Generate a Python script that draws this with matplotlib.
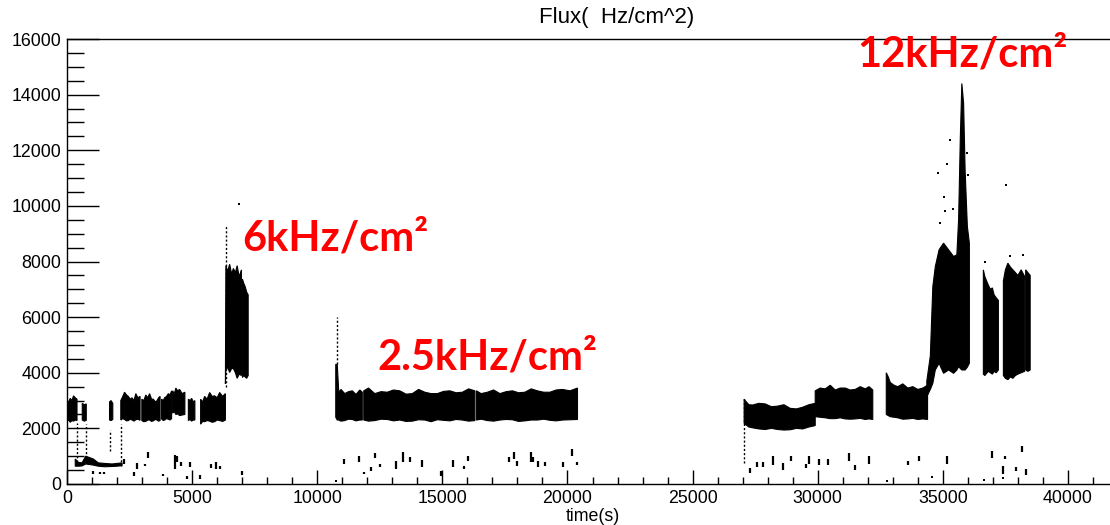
import matplotlib
matplotlib.use("Agg")
import matplotlib.pyplot as plt
from matplotlib.ticker import MultipleLocator

# ---- dense run periods: time (s), upper and lower envelope of the flux (Hz/cm^2)
run01_t = [0, 70, 130, 200, 260, 330, 400]
run01_hi = [3000, 2950, 3080, 3000, 3170, 3100, 3050]
run01_lo = [2250, 2300, 2220, 2280, 2260, 2300, 2280]

run02_t = [610, 690, 770]
run02_hi = [2900, 2850, 2880]
run02_lo = [2300, 2260, 2290]

run03_t = [1700, 1760, 1830]
run03_hi = [2950, 3000, 2900]
run03_lo = [2300, 2280, 2320]

run04_t = [2150, 2230, 2300, 2380, 2450, 2530, 2600, 2680, 2750, 2830, 2920]
run04_hi = [3000, 3150, 3300, 3200, 3150, 3050, 3100, 3000, 3250, 3100, 3150]
run04_lo = [2300, 2350, 2320, 2270, 2280, 2330, 2300, 2260, 2310, 2330, 2290]

run05_t = [2990, 3070, 3150, 3230, 3300, 3380, 3450, 3530, 3600, 3660, 3720]
run05_hi = [3050, 3000, 3200, 3100, 3250, 3050, 3050, 2950, 3000, 3100, 3150]
run05_lo = [2280, 2240, 2250, 2300, 2300, 2250, 2270, 2320, 2300, 2260, 2280]

run06_t = [3780, 3850, 3900, 3980, 4050, 4120, 4180]
run06_hi = [3050, 3000, 3100, 3150, 3250, 3200, 3350]
run06_lo = [2340, 2280, 2300, 2350, 2330, 2300, 2350]

run07_t = [4220, 4290, 4350, 4420, 4500, 4600, 4710]
run07_hi = [3350, 3250, 3450, 3350, 3400, 3250, 3300]
run07_lo = [2550, 2600, 2500, 2520, 2460, 2480, 2500]

run08_t = [4850, 4920, 4980, 5050, 5110]
run08_hi = [3050, 3000, 3080, 2950, 3000]
run08_lo = [2280, 2320, 2260, 2300, 2300]

run09_t = [5340, 5420, 5500, 5600, 5700, 5800, 5900, 6000, 6100, 6220, 6330]
run09_hi = [3050, 2950, 3150, 3050, 3290, 3150, 3170, 3100, 3290, 3150, 3250]
run09_lo = [2150, 2250, 2240, 2280, 2260, 2220, 2240, 2300, 2280, 2250, 2300]

run10_t = [6330, 6350, 6420, 6500, 6580, 6650, 6730, 6800, 6880, 6970]
run10_hi = [3600, 7850, 7650, 7900, 7550, 7750, 7600, 7850, 7450, 7700]
run10_lo = [3600, 4100, 4200, 4010, 4150, 4150, 4000, 3800, 3950, 3900]

run11_t = [7010, 7070, 7120, 7180, 7240]
run11_hi = [7370, 7200, 7100, 6900, 6800]
run11_lo = [3830, 3900, 3850, 3800, 3900]

run12_t = [10740, 10800, 10860, 10950, 11100, 11250, 11400, 11550, 11700, 11800]
run12_hi = [4300, 4300, 3300, 3400, 3250, 3320, 3350, 3220, 3380, 3300]
run12_lo = [2400, 2300, 2300, 2260, 2280, 2330, 2320, 2270, 2300, 2300]

run13_t = [11860, 12050, 12300, 12550, 12800, 13050, 13300, 13550, 13800, 14050,
           14300, 14550, 14800, 15050, 15300, 15550, 15800, 16050, 16300]
run13_hi = [3350, 3450, 3250, 3320, 3300, 3380, 3350, 3230, 3250, 3400,
            3300, 3250, 3250, 3330, 3350, 3280, 3300, 3420, 3350]
run13_lo = [2300, 2260, 2280, 2330, 2320, 2270, 2300, 2250, 2260, 2310,
            2300, 2240, 2310, 2290, 2270, 2320, 2300, 2260, 2280]

run14_t = [16360, 16550, 16800, 17050, 17300, 17550, 17800, 18050, 18300, 18550,
           18800, 19050, 19300, 19550, 19800, 20100, 20400]
run14_hi = [3350, 3250, 3300, 3380, 3250, 3320, 3350, 3280, 3300, 3420,
            3350, 3300, 3300, 3380, 3400, 3350, 3450]
run14_lo = [2300, 2330, 2280, 2260, 2300, 2320, 2310, 2250, 2270, 2300,
            2300, 2330, 2290, 2270, 2300, 2310, 2320]

run15_t = [27060, 27100, 27250, 27400, 27650, 27900, 28150, 28400, 28650, 28900,
           29150, 29400, 29650, 29900]
run15_hi = [3050, 3000, 2850, 2840, 2900, 2880, 2780, 2800, 2850, 2720,
            2700, 2760, 2850, 2900]
run15_lo = [2180, 2150, 2050, 2020, 1980, 1960, 2000, 1960, 1940, 1950,
            2000, 1980, 2050, 2100]

run16_t = [29900, 30100, 30300, 30500, 30700, 30900, 31100, 31300, 31500, 31700,
           31900, 32050, 32200]
run16_hi = [3350, 3450, 3420, 3550, 3380, 3450, 3450, 3380, 3400, 3500,
            3420, 3500, 3380]
run16_lo = [2420, 2400, 2380, 2350, 2350, 2380, 2340, 2330, 2340, 2360,
            2320, 2340, 2320]

run17_t = [32740, 32820, 32900, 33050, 33200, 33400, 33600, 33800, 34000, 34200, 34390]
run17_hi = [4000, 3850, 3650, 3550, 3500, 3600, 3450, 3500, 3400, 3450, 3550]
run17_lo = [2500, 2460, 2420, 2400, 2380, 2330, 2340, 2360, 2320, 2340, 2320]

run18_t = [34360, 34500, 34600, 34700, 34850, 35030, 35230, 35430, 35560, 35630,
           35700, 35760, 35830, 35890, 35980, 36060]
run18_hi = [3700, 4600, 7100, 7820, 8420, 8660, 8420, 8180, 8240, 9500,
            12490, 14400, 13690, 11290, 9260, 8660]
run18_lo = [3140, 3400, 3620, 4100, 4340, 3980, 4100, 3980, 4100, 4220,
            4150, 4100, 4100, 4100, 4200, 4340]

run19_t = [36620, 36680, 36750, 36820, 36900, 36980, 37050, 37130, 37220]
run19_hi = [7700, 7450, 7300, 7150, 7000, 7050, 6800, 6700, 6600]
run19_lo = [3950, 3900, 3980, 4050, 4000, 3950, 4050, 4000, 4100]

run20_t = [37420, 37500, 37600, 37700, 37800, 37900, 38000, 38130, 38270]
run20_hi = [7300, 7700, 7940, 7800, 7700, 7600, 7500, 7700, 7460]
run20_lo = [3900, 3800, 3750, 3850, 3800, 3900, 3950, 4000, 4050]

run21_t = [38310, 38400, 38490]
run21_hi = [7700, 7600, 7500]
run21_lo = [4100, 4050, 4100]

# low-rate period at the start of the run
low_t = [330, 450, 600, 750, 900, 1050, 1250, 1500, 1800, 2000, 2200]
low_hi = [900, 780, 760, 1000, 950, 900, 760, 740, 720, 740, 760]
low_lo = [640, 640, 650, 720, 700, 680, 640, 620, 630, 640, 660]

# isolated short readings: time, lower flux, upper flux
spot_t = [1040, 1330, 1490, 2280, 2660, 2790, 3120, 3250, 3820, 4300, 4410, 4540,
          4810, 4910, 5310, 5740, 5940, 6110, 7010,
          11050, 11680, 11850, 12150, 12310, 12510, 13150, 13420, 13710, 14170,
          14930, 15440, 15870, 16040, 17680, 17860, 18000, 18530, 18640, 18840,
          19110, 19840, 20200, 20370,
          27300, 27570, 27830, 28200, 28600, 28920, 29540, 29640, 30070, 30400,
          31240, 31500, 32050, 33600, 34030, 35180, 36980, 37420, 37490, 37930,
          38150, 38310]
spot_lo = [360, 360, 360, 720, 280, 540, 630, 920, 300, 540, 800, 660,
           180, 600, 180, 560, 540, 540, 340,
           720, 780, 360, 480, 920, 600, 540, 780, 800, 600,
           300, 620, 540, 840, 800, 900, 640, 800, 780, 620,
           660, 600, 1020, 680,
           380, 620, 620, 680, 500, 840, 560, 720, 680, 680,
           840, 500, 720, 680, 840, 720, 920, 360, 900, 480,
           1140, 340]
spot_hi = [480, 420, 420, 900, 420, 740, 710, 1140, 360, 1040, 1000, 800,
           300, 800, 320, 720, 780, 660, 460,
           900, 1020, 420, 600, 1110, 720, 840, 1160, 980, 880,
           480, 860, 660, 1020, 960, 1140, 840, 1140, 960, 840,
           780, 800, 1260, 800,
           560, 800, 800, 1010, 770, 1020, 710, 1010, 890, 890,
           1100, 680, 1010, 830, 1010, 1020, 1200, 660, 1020, 620,
           1350, 540]

# thin trails connecting rate changes
trail_t = [400, 760, 1720, 2160, 6360, 10770, 27060]
trail_lo = [780, 780, 1200, 660, 3500, 4300, 740]
trail_hi = [2200, 2150, 1950, 2150, 9300, 6020, 3050]

# single stray readings
dot_t = [6880, 10740, 32760, 34580, 36650, 37390, 37530, 34790, 35030, 35160,
         35270, 35960, 35990, 34900, 35100, 35400, 36700, 37700, 38200]
dot_v = [10060, 120, 120, 240, 140, 210, 10750, 11170, 10330, 11500,
         12370, 11890, 11100, 9400, 9800, 9900, 8000, 8200, 8250]

# axis ticks
x_major = 5000
x_minor = 1000
y_major = 2000
y_minor = 500

plt.rcParams['font.family'] = ['Liberation Sans', 'DejaVu Sans']

fig = plt.figure(figsize=(11.1, 5.25), dpi=100)
ax = fig.add_axes([67 / 1110, 41 / 525, 1051 / 1110, 445 / 525])

runs = [
    (run01_t, run01_hi, run01_lo), (run02_t, run02_hi, run02_lo),
    (run03_t, run03_hi, run03_lo), (run04_t, run04_hi, run04_lo),
    (run05_t, run05_hi, run05_lo), (run06_t, run06_hi, run06_lo),
    (run07_t, run07_hi, run07_lo), (run08_t, run08_hi, run08_lo),
    (run09_t, run09_hi, run09_lo), (run10_t, run10_hi, run10_lo),
    (run11_t, run11_hi, run11_lo), (run12_t, run12_hi, run12_lo),
    (run13_t, run13_hi, run13_lo), (run14_t, run14_hi, run14_lo),
    (run15_t, run15_hi, run15_lo), (run16_t, run16_hi, run16_lo),
    (run17_t, run17_hi, run17_lo), (run18_t, run18_hi, run18_lo),
    (run19_t, run19_hi, run19_lo), (run20_t, run20_hi, run20_lo),
    (run21_t, run21_hi, run21_lo), (low_t, low_hi, low_lo),
]
# each run is one closed outline: along the upper envelope, back along the lower
for t, hi, lo in runs:
    ax.fill(list(t) + list(t)[::-1], list(hi) + list(lo)[::-1],
            facecolor='black', edgecolor='black', linewidth=0.8)

ax.vlines(spot_t, spot_lo, spot_hi, color='black', linewidth=1.6)
ax.vlines(trail_t, trail_lo, trail_hi, color='black', linewidth=1.0,
          linestyles=(0, (1.5, 1.5)))
ax.scatter(dot_t, dot_v, s=4, marker='s', color='black', linewidths=0)

ax.set_xlim(0, 42000)
ax.set_ylim(0, 16000)
ax.xaxis.set_major_locator(MultipleLocator(x_major))
ax.xaxis.set_minor_locator(MultipleLocator(x_minor))
ax.yaxis.set_major_locator(MultipleLocator(y_major))
ax.yaxis.set_minor_locator(MultipleLocator(y_minor))

ax.tick_params(axis='both', which='both', direction='in', width=1.0,
               colors='black', labelsize=12.8, top=False, right=False)
ax.tick_params(axis='y', which='major', length=23, pad=4)
ax.tick_params(axis='y', which='minor', length=12)
ax.tick_params(axis='x', which='major', length=10, pad=4)
ax.tick_params(axis='x', which='minor', length=5)
for sp in ax.spines.values():
    sp.set_linewidth(1.0)

ax.set_xlabel('time(s)', fontsize=12.8, labelpad=1)
fig.text(617 / 1110, 1 - 18 / 525, 'Flux(  Hz/cm^2)', ha='center', va='center',
         fontsize=16)

red = dict(color='#ff0000', fontsize=30, fontweight='bold',
           family=['Lato', 'DejaVu Sans'], va='baseline', ha='left')
ax.text(6995, 8390, '6kHz/cm²', **red)
ax.text(12390, 4100, '2.5kHz/cm²', **red)
ax.text(31575, 15010, '12kHz/cm²', **red)

fig.savefig('out.png', dpi=100)
